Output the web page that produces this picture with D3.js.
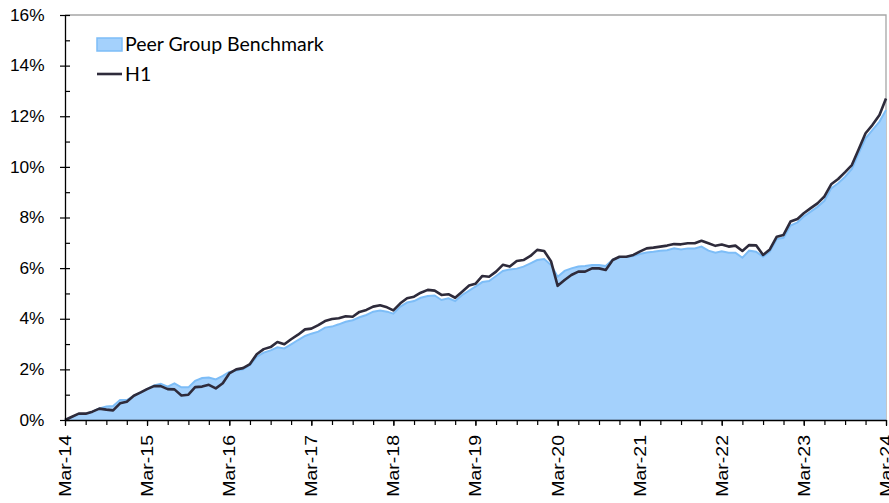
<!DOCTYPE html>
<html>
<head>
<meta charset="utf-8">
<script src="https://cdn.jsdelivr.net/npm/d3@7"></script>
<style>
  body { margin: 0; background: #fff; }
  .tick text { font-family: "Liberation Sans", Arial, sans-serif; font-size: 16px; fill: #000; }
  .legend text { font-family: Lato, "Open Sans", sans-serif; font-size: 19.5px; fill: #000; }
</style>
</head>
<body>
<div id="chart"></div>
<script>
// monthly, Mar-14 .. Mar-24
var months = d3.timeMonths(new Date(2014, 2, 1), new Date(2024, 2, 2));

var h1 = [
  0.00, 0.13, 0.25, 0.25, 0.33, 0.45, 0.41, 0.38, 0.66, 0.72, 0.96, 1.09,
  1.22, 1.34, 1.34, 1.22, 1.21, 0.97, 1.00, 1.30, 1.32, 1.39, 1.25, 1.45,
  1.84, 2.00, 2.05, 2.21, 2.60, 2.80, 2.88, 3.08, 2.99, 3.19, 3.37, 3.58,
  3.61, 3.75, 3.91, 3.99, 4.02, 4.10, 4.08, 4.27, 4.35, 4.48, 4.53, 4.45,
  4.33, 4.61, 4.81, 4.87, 5.03, 5.14, 5.11, 4.94, 4.97, 4.83, 5.07, 5.31,
  5.38, 5.69, 5.66, 5.86, 6.13, 6.06, 6.28, 6.32, 6.48, 6.72, 6.68, 6.26,
  5.30, 5.53, 5.73, 5.86, 5.86, 5.99, 5.99, 5.93, 6.32, 6.45, 6.45, 6.52,
  6.65, 6.78, 6.81, 6.85, 6.89, 6.95, 6.94, 6.98, 6.98, 7.08, 6.98, 6.88,
  6.93, 6.85, 6.89, 6.68, 6.91, 6.90, 6.52, 6.74, 7.24, 7.31, 7.84, 7.94,
  8.17, 8.37, 8.56, 8.83, 9.31, 9.52, 9.79, 10.07, 10.71, 11.33, 11.66, 12.05,
  12.70
];

var peer = [
  0.00, 0.12, 0.23, 0.25, 0.33, 0.46, 0.53, 0.55, 0.79, 0.79, 0.95, 1.09,
  1.22, 1.37, 1.43, 1.32, 1.45, 1.29, 1.29, 1.55, 1.66, 1.68, 1.60, 1.74,
  1.90, 1.95, 2.00, 2.17, 2.50, 2.66, 2.75, 2.87, 2.83, 2.99, 3.16, 3.32,
  3.41, 3.49, 3.65, 3.69, 3.78, 3.88, 3.94, 4.06, 4.15, 4.28, 4.33, 4.28,
  4.20, 4.48, 4.64, 4.70, 4.83, 4.90, 4.92, 4.74, 4.81, 4.70, 4.94, 5.11,
  5.27, 5.45, 5.49, 5.69, 5.89, 5.95, 5.98, 6.06, 6.19, 6.32, 6.36, 6.12,
  5.66, 5.89, 5.99, 6.06, 6.08, 6.12, 6.12, 6.08, 6.34, 6.43, 6.45, 6.48,
  6.56, 6.62, 6.65, 6.69, 6.71, 6.78, 6.74, 6.78, 6.78, 6.85, 6.69, 6.61,
  6.67, 6.61, 6.61, 6.41, 6.69, 6.65, 6.45, 6.65, 7.15, 7.20, 7.68, 7.81,
  8.04, 8.23, 8.42, 8.66, 9.15, 9.35, 9.61, 9.92, 10.54, 11.13, 11.46, 11.79,
  12.25
];

var xTickLabels = ["Mar-14","Mar-15","Mar-16","Mar-17","Mar-18","Mar-19","Mar-20","Mar-21","Mar-22","Mar-23","Mar-24"];
var yMajor = [0, 2, 4, 6, 8, 10, 12, 14, 16];
var yMinor = [1, 3, 5, 7, 9, 11, 13, 15];
var seriesNames = ["Peer Group Benchmark", "H1"];

var width = 889, height = 503;
var margin = {top: 15, right: 3, bottom: 83, left: 65};

var svg = d3.select("#chart").append("svg")
  .attr("width", width).attr("height", height);

var x = d3.scaleTime()
  .domain([months[0], months[months.length - 1]])
  .range([margin.left, width - margin.right]);
var y = d3.scaleLinear()
  .domain([0, 16])
  .range([height - margin.bottom, margin.top]);

var data = months.map(function(m, i) {
  return {date: m, h1: h1[i], peer: peer[i]};
});

// plot border (top / right)
svg.append("path")
  .attr("d", "M" + x.range()[0] + "," + y(16) + "H" + x.range()[1] + "V" + y(0))
  .attr("fill", "none").attr("stroke", "#a6a6a6").attr("stroke-width", 1.3);

// peer group area
svg.append("path").datum(data)
  .attr("fill", "#a4d1fc")
  .attr("d", d3.area().x(function(d) { return x(d.date); })
    .y0(y(0)).y1(function(d) { return y(d.peer); }));
svg.append("path").datum(data)
  .attr("fill", "none").attr("stroke", "#7dbdf7").attr("stroke-width", 2)
  .attr("d", d3.line().x(function(d) { return x(d.date); })
    .y(function(d) { return y(d.peer); }));

// H1 line
svg.append("path").datum(data)
  .attr("fill", "none").attr("stroke", "#2e2b3b").attr("stroke-width", 2.6)
  .attr("stroke-linejoin", "round")
  .attr("d", d3.line().x(function(d) { return x(d.date); })
    .y(function(d) { return y(d.h1); }));

// y axis
var yAxis = svg.append("g").attr("class", "y axis")
  .attr("transform", "translate(" + margin.left + ",0)")
  .call(d3.axisLeft(y).tickValues(yMajor).tickSize(5).tickSizeOuter(0)
    .tickFormat(function(d) { return d + "%"; }));
yAxis.selectAll(".tick text").attr("x", -19)
  .attr("transform", function() { return "scale(1.08,1)"; });
svg.append("g").attr("transform", "translate(" + margin.left + ",0)")
  .call(d3.axisLeft(y).tickValues(yMajor.concat(yMinor)).tickSize(-5).tickSizeOuter(0).tickFormat(""))
  .select(".domain").remove();

// x axis
var xAxis = svg.append("g").attr("class", "x axis")
  .attr("transform", "translate(0," + y(0) + ")")
  .call(d3.axisBottom(x).tickValues(months.filter(function(m, i) { return i % 12 === 0; }))
    .tickSize(6).tickSizeOuter(0)
    .tickFormat(function(d, i) { return xTickLabels[i]; }));
xAxis.selectAll(".tick text")
  .attr("text-anchor", "end")
  .attr("x", 0).attr("y", 0).attr("dy", "0.35em")
  .attr("transform", "translate(0,15) rotate(-90) scale(1.22,1)");
svg.append("g").attr("transform", "translate(0," + y(0) + ")")
  .call(d3.axisBottom(x).tickValues(months.filter(function(m, i) { return i % 3 === 0; }))
    .tickSize(5).tickSizeOuter(0).tickFormat(""))
  .select(".domain").remove();
svg.selectAll(".axis .domain").attr("stroke", "#000").attr("stroke-width", 1.3);
svg.selectAll(".tick line").attr("stroke", "#000").attr("stroke-width", 1.2);

// legend
var legend = svg.append("g").attr("class", "legend");
legend.append("rect").attr("x", 97).attr("y", 38).attr("width", 25).attr("height", 13)
  .attr("fill", "#a4d1fc").attr("stroke", "#7dbdf7").attr("stroke-width", 1.5);
legend.append("text").attr("x", 125).attr("y", 51).text(seriesNames[0]);
legend.append("line").attr("x1", 97).attr("x2", 122).attr("y1", 74).attr("y2", 74)
  .attr("stroke", "#2e2b3b").attr("stroke-width", 2.6);
legend.append("text").attr("x", 125).attr("y", 81).text(seriesNames[1]);
</script>
</body>
</html>
